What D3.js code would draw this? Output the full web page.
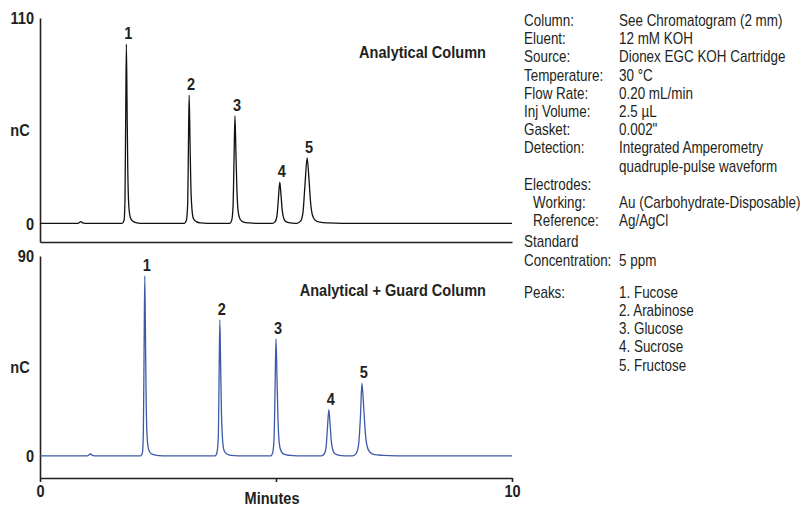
<!DOCTYPE html>
<html>
<head>
<meta charset="utf-8">
<script src="https://cdn.jsdelivr.net/npm/d3@7"></script>
<style>
  body { margin: 0; background: #fff; }
  svg text { font-family: 'Liberation Sans', Arial, sans-serif; fill: #231f20; }
</style>
</head>
<body>
<svg id="chart"></svg>
<script>
// Chromatogram traces: [minutes, nC]
const topTrace = [
    [0, 0], [0.8, 0], [0.87, 0.9], [0.92, 0.1], [1.0, 0],
    [1.74, 0], [1.78, 1.5], [1.80, 12], [1.815, 55], [1.83, 96], [1.845, 62], [1.86, 28], [1.88, 10], [1.91, 3.5], [1.96, 1.2], [2.05, 0.3], [2.2, 0],
    [3.06, 0], [3.10, 1.5], [3.13, 11], [3.145, 42], [3.16, 68.7], [3.177, 46], [3.195, 21], [3.22, 7.5], [3.25, 2.6], [3.31, 0.9], [3.4, 0.2], [3.55, 0],
    [4.02, 0], [4.06, 1.5], [4.09, 9], [4.11, 33], [4.13, 57.6], [4.15, 39], [4.172, 18], [4.2, 6], [4.24, 2.2], [4.31, 0.7], [4.42, 0.2], [4.6, 0],
    [4.92, 0], [4.98, 0.8], [5.02, 4], [5.05, 13], [5.08, 22.1], [5.105, 15.5], [5.13, 7.5], [5.165, 2.6], [5.21, 0.9], [5.3, 0.2], [5.4, 0],
    [5.44, 0], [5.52, 1.2], [5.57, 5.5], [5.61, 19], [5.66, 35.1], [5.695, 25], [5.73, 12], [5.77, 4.6], [5.83, 1.7], [5.93, 0.6], [6.1, 0.2], [6.4, 0],
    [10, 0]
];

const bottomTrace = [
    [0, 0], [1.0, 0], [1.07, 0.8], [1.12, 0.1], [1.2, 0],
    [2.13, 0], [2.17, 1.5], [2.19, 11], [2.205, 47], [2.22, 81], [2.235, 53], [2.25, 24], [2.27, 8.5], [2.30, 3], [2.35, 1], [2.44, 0.3], [2.6, 0],
    [3.71, 0], [3.75, 1.5], [3.78, 10], [3.795, 37], [3.81, 61.2], [3.827, 41], [3.845, 19], [3.87, 6.7], [3.9, 2.4], [3.96, 0.8], [4.05, 0.2], [4.2, 0],
    [4.89, 0], [4.93, 1.4], [4.96, 8.5], [4.98, 30], [5.0, 52.7], [5.02, 36], [5.042, 16.5], [5.07, 5.5], [5.11, 2], [5.18, 0.6], [5.29, 0.2], [5.45, 0],
    [5.96, 0], [6.02, 0.8], [6.06, 3.8], [6.09, 12.5], [6.12, 20.8], [6.145, 14.5], [6.17, 7], [6.205, 2.5], [6.25, 0.9], [6.34, 0.2], [6.45, 0],
    [6.62, 0], [6.70, 1.1], [6.75, 5], [6.79, 18], [6.82, 32.7], [6.855, 23], [6.89, 11], [6.93, 4.3], [6.99, 1.6], [7.09, 0.5], [7.26, 0.2], [7.56, 0],
    [10, 0]
];

// Peak labels
const peakNames = ['1', '2', '3', '4', '5'];
const topPeakTimes = [1.83, 3.16, 4.13, 5.08, 5.66];
const topPeakHeights = [96, 68.7, 57.6, 22.1, 35.1];
const bottomPeakTimes = [2.22, 3.81, 5.0, 6.12, 6.82];
const bottomPeakHeights = [81, 61.2, 52.7, 20.8, 32.7];

// Axes
const xTicks = [0, 5, 10];
const xTickLabels = ['0', '', '10'];
const topYTicks = [0, 110];
const bottomYTicks = [0, 90];

// Conditions panel
const infoLabels = ['Column:', 'Eluent:', 'Source:', 'Temperature:', 'Flow Rate:', 'Inj Volume:', 'Gasket:', 'Detection:', '', 'Electrodes:', ' Working:', ' Reference:', 'Standard', 'Concentration:', 'Peaks:', '', '', '', ''];
const infoValues = ['See Chromatogram (2 mm)', '12 mM KOH', 'Dionex EGC KOH Cartridge', '30 °C', '0.20 mL/min', '2.5 µL', '0.002"', 'Integrated Amperometry', 'quadruple-pulse waveform', '', 'Au (Carbohydrate-Disposable)', 'Ag/AgCl', '', '5 ppm', '1. Fucose', '2. Arabinose', '3. Glucose', '4. Sucrose', '5. Fructose'];

const width = 805, height = 506;
const boldSize = 16, boldSqueeze = 0.91;
const infoSize = 16, infoSqueeze = 0.84;

const svg = d3.select('#chart')
    .attr('width', width)
    .attr('height', height);

// narrow the text horizontally (no condensed face installed)
function squeeze(sel, s) {
    sel.each(function() {
        let t = d3.select(this);
        let x = +t.attr('x') || 0, y = +t.attr('y') || 0;
        t.attr('x', 0).attr('y', 0)
            .attr('transform', `translate(${x},${y}) scale(${s},1)`);
    });
}

const xScale = d3.scaleLinear()
    .domain([0, 10])
    .range([40, 512]);

const panels = [
    { trace: topTrace, times: topPeakTimes, heights: topPeakHeights, yTicks: topYTicks,
      domain: [-10, 110], range: [242, 18], color: '#111111', title: 'Analytical Column', titleX: 486, titleY: 58, xAxis: false },
    { trace: bottomTrace, times: bottomPeakTimes, heights: bottomPeakHeights, yTicks: bottomYTicks,
      domain: [-10, 90], range: [478, 256], color: '#3d5aa9', title: 'Analytical + Guard Column', titleX: 486, titleY: 296, xAxis: true }
];

panels.forEach(function(p) {
    let yScale = d3.scaleLinear()
        .domain(p.domain)
        .range(p.range);

    let g = svg.append('g');

    // y axis
    let yAxis = g.append('g')
        .attr('transform', `translate(${xScale(0)}, 0)`)
        .call(d3.axisLeft(yScale).tickValues(p.yTicks).tickSize(0).tickPadding(6));
    yAxis.select('.domain').attr('stroke', '#231f20').attr('stroke-width', 1.6);
    yAxis.selectAll('text')
        .attr('font-family', "'Liberation Sans', Arial, sans-serif")
        .attr('font-size', boldSize)
        .attr('font-weight', 'bold')
        .attr('fill', '#231f20')
        .attr('dy', '0.36em');
    squeeze(yAxis.selectAll('text'), boldSqueeze);

    // x axis line
    let xAxis = g.append('g')
        .attr('transform', `translate(0, ${p.range[0]})`)
        .call(d3.axisBottom(xScale)
            .tickValues(xTicks)
            .tickFormat((d, i) => xTickLabels[i])
            .tickSize(p.xAxis ? 4 : 0)
            .tickSizeOuter(0)
            .tickPadding(4));
    xAxis.select('.domain').attr('stroke', '#231f20').attr('stroke-width', 1.6);
    xAxis.selectAll('line').attr('stroke', '#231f20').attr('stroke-width', 1.6);
    xAxis.selectAll('text')
        .attr('font-family', "'Liberation Sans', Arial, sans-serif")
        .attr('font-size', boldSize)
        .attr('font-weight', 'bold')
        .attr('fill', '#231f20')
        .style('display', p.xAxis ? null : 'none');
    squeeze(xAxis.selectAll('text'), boldSqueeze);

    // nC label
    let nc = g.append('text')
        .attr('x', 20)
        .attr('y', (p.range[0] + p.range[1]) / 2 + 6)
        .attr('text-anchor', 'middle')
        .attr('font-size', boldSize)
        .attr('font-weight', 'bold')
        .text('nC');
    squeeze(nc, boldSqueeze);

    // trace
    let line = d3.line()
        .x(d => xScale(d[0]))
        .y(d => yScale(d[1]))
        .curve(d3.curveMonotoneX);

    g.append('path')
        .datum(p.trace)
        .attr('d', line)
        .attr('fill', 'none')
        .attr('stroke', p.color)
        .attr('stroke-width', 1.3);

    // peak numbers
    let peaks = g.selectAll('.peak')
        .data(peakNames)
        .enter()
        .append('text')
        .attr('class', 'peak')
        .attr('x', (d, i) => xScale(p.times[i]) + 2)
        .attr('y', (d, i) => yScale(p.heights[i]) - 5)
        .attr('text-anchor', 'middle')
        .attr('font-size', boldSize)
        .attr('font-weight', 'bold')
        .text(d => d);
    squeeze(peaks, boldSqueeze);

    // panel title
    let title = g.append('text')
        .attr('x', p.titleX)
        .attr('y', p.titleY)
        .attr('text-anchor', 'end')
        .attr('font-size', boldSize)
        .attr('font-weight', 'bold')
        .text(p.title);
    squeeze(title, boldSqueeze);
});

// Minutes label
let minutesLabel = svg.append('text')
    .attr('x', 272)
    .attr('y', 504)
    .attr('text-anchor', 'middle')
    .attr('font-size', boldSize)
    .attr('font-weight', 'bold')
    .text('Minutes');
squeeze(minutesLabel, boldSqueeze);

// Conditions panel
let rowY = 26;
const rowGap = 18.2;
const rowYs = infoLabels.map(function(d, i) {
    if (i > 0) rowY += rowGap;
    if (i === 12) rowY += 3;   // before "Standard"
    if (i === 14) rowY += 14;  // before "Peaks:"
    return rowY;
});

const info = svg.append('g');
let labels = info.selectAll('.info-label')
    .data(infoLabels)
    .enter()
    .append('text')
    .attr('class', 'info-label')
    .attr('x', d => d.startsWith(' ') ? 533 : 524)
    .attr('y', (d, i) => rowYs[i])
    .attr('font-size', infoSize)
    .text(d => d.trim());
squeeze(labels, infoSqueeze);

let values = info.selectAll('.info-value')
    .data(infoValues)
    .enter()
    .append('text')
    .attr('class', 'info-value')
    .attr('x', 619)
    .attr('y', (d, i) => rowYs[i])
    .attr('font-size', infoSize)
    .text(d => d);
squeeze(values, infoSqueeze);
</script>
</body>
</html>
